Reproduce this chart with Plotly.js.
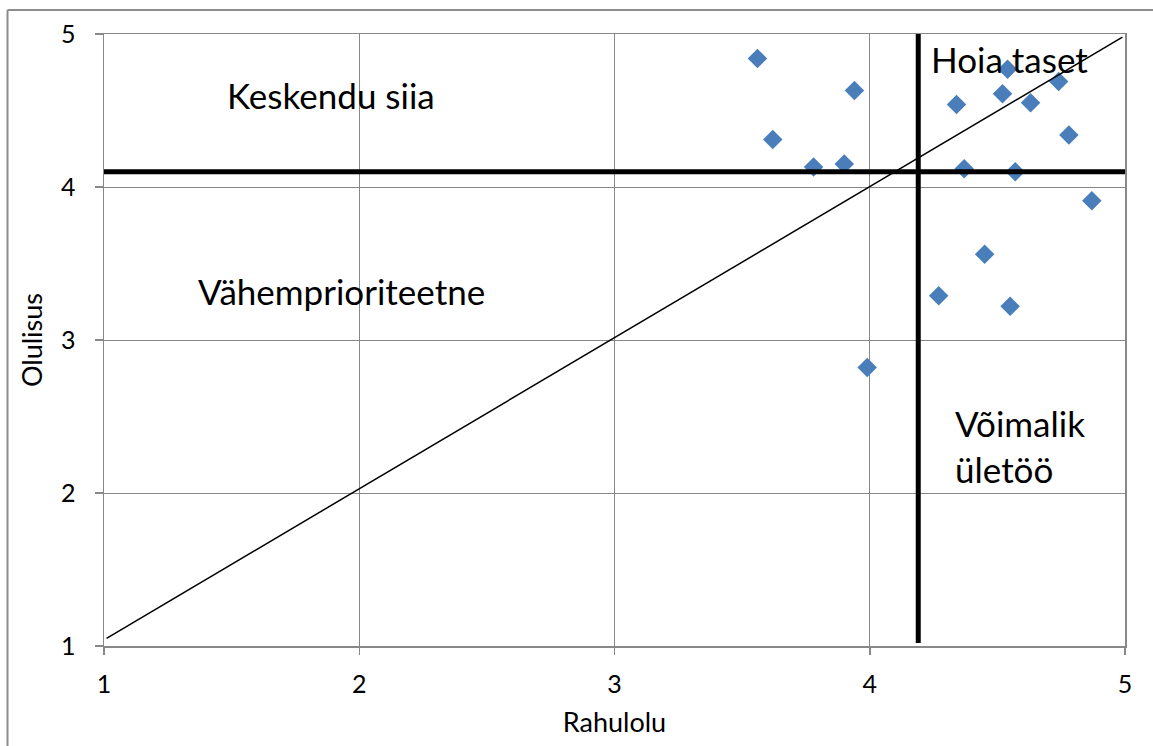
<!DOCTYPE html>
<html>
<head>
<meta charset="utf-8">
<script src="https://cdn.plot.ly/plotly-3.0.1.min.js"></script>
<style>
  html, body { margin: 0; padding: 0; background: #ffffff; }
  #chart { width: 1153px; height: 746px; }
</style>
</head>
<body>
<div id="chart"></div>
<script>
// Satisfaction (Rahulolu) vs importance (Olulisus) per item
const rahulolu = [3.56, 3.94, 3.62, 3.78, 3.90, 3.99, 4.54, 4.34, 4.52, 4.63, 4.74, 4.78, 4.37, 4.57, 4.87, 4.45, 4.27, 4.55];
const olulisus = [4.84, 4.63, 4.31, 4.13, 4.15, 2.82, 4.77, 4.54, 4.61, 4.55, 4.69, 4.34, 4.12, 4.10, 3.91, 3.56, 3.29, 3.22];

// Quadrant dividers
const rahuloluPiir = 4.19;
const olulisusPiir = 4.10;

// Diagonal reference line
const diagX = [1.01, 4.99];
const diagY = [1.05, 4.98];

// Axis ticks
const tickValues = [1, 2, 3, 4, 5];
const tickLabels = ['1', '2', '3', '4', '5'];

// Quadrant labels
const quadrantLabels = [
  { text: 'Keskendu siia', x: 1.89, y: 4.60, anchor: 'center' },
  { text: 'Vähemprioriteetne', x: 1.93, y: 3.32, anchor: 'center' },
  { text: 'Hoia taset', x: 4.546, y: 4.835, anchor: 'center' },
  { text: 'Võimalik<br>ületöö', x: 4.325, y: 2.31, anchor: 'left' }
];

const FONT = 'Lato, "Open Sans", sans-serif';
const GRID = '#888888';

const traces = [
  {
    type: 'scatter', mode: 'markers',
    x: rahulolu, y: olulisus,
    marker: { symbol: 'diamond', size: 15, color: '#4A7EBB', line: { width: 0 } },
    hoverinfo: 'x+y', showlegend: false
  },
  {
    type: 'scatter', mode: 'lines',
    x: [1, 5], y: [olulisusPiir, olulisusPiir],
    line: { color: '#000000', width: 5 },
    hoverinfo: 'skip', showlegend: false
  },
  {
    type: 'scatter', mode: 'lines',
    x: [rahuloluPiir, rahuloluPiir], y: [1.02, 5.0],
    line: { color: '#000000', width: 5 },
    hoverinfo: 'skip', showlegend: false
  },
  {
    type: 'scatter', mode: 'lines',
    x: diagX, y: diagY,
    line: { color: '#000000', width: 1.5 },
    hoverinfo: 'skip', showlegend: false
  }
];

const axisBase = {
  range: [1, 5],
  tickmode: 'array',
  tickvals: tickValues,
  ticktext: tickLabels,
  showgrid: true,
  gridcolor: GRID,
  gridwidth: 1,
  zeroline: false,
  showline: true,
  linecolor: GRID,
  linewidth: 1.5,
  mirror: true,
  ticks: 'outside',
  tickcolor: GRID,
  tickwidth: 1.5,
  tickfont: { family: FONT, size: 25, color: '#000000' },
  automargin: false
};

const layout = {
  width: 1153,
  height: 746,
  margin: { l: 104, r: 28, t: 34, b: 100 },
  paper_bgcolor: '#ffffff',
  plot_bgcolor: '#ffffff',
  showlegend: false,
  font: { family: FONT, color: '#000000' },
  xaxis: Object.assign({}, axisBase, {
    ticklen: 7,
    ticklabelstandoff: 8,
    title: { text: 'Rahulolu', font: { family: FONT, size: 27, color: '#000000' }, standoff: 16 }
  }),
  yaxis: Object.assign({}, axisBase, {
    ticklen: 8,
    ticklabelstandoff: 14,
    title: { text: 'Olulisus', font: { family: FONT, size: 27, color: '#000000' }, standoff: 10 }
  }),
  annotations: quadrantLabels.map(q => ({
    xref: 'x', yref: 'y', x: q.x, y: q.y,
    text: q.text, showarrow: false,
    xanchor: q.anchor, yanchor: 'middle', align: 'left',
    font: { family: FONT, size: 35, color: '#000000' }
  })),
  shapes: [
    // chart frame (left and top edges)
    { type: 'line', xref: 'paper', yref: 'paper', x0: -0.0945, x1: -0.0945, y0: -0.2, y1: 1.0392,
      line: { color: '#8c8c8c', width: 2 }, layer: 'above' },
    { type: 'line', xref: 'paper', yref: 'paper', x0: -0.0945, x1: 1.1, y0: 1.0392, y1: 1.0392,
      line: { color: '#8c8c8c', width: 2 }, layer: 'above' }
  ]
};

Plotly.newPlot('chart', traces, layout, { displayModeBar: false, staticPlot: true });
</script>
</body>
</html>
